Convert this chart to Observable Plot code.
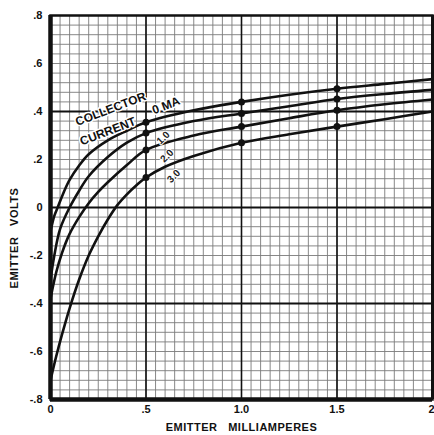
<!DOCTYPE html>
<html>
<head>
<meta charset="utf-8">
<script src="https://cdn.jsdelivr.net/npm/d3@7"></script>
<script src="https://cdn.jsdelivr.net/npm/@observablehq/plot@0.6"></script>
<style>
  html, body { margin: 0; padding: 0; background: #fff; }
  svg { display: block; }
</style>
</head>
<body>
<div id="chart"></div>
<script>
// Collector current series (mA) and emitter curves
const seriesNames = ["0", "1.0", "2.0", "3.0"];
const curve0X = [0, 0.02, 0.04, 0.07, 0.1, 0.15, 0.2, 0.3, 0.4, 0.5, 0.75, 1.0, 1.25, 1.5, 1.75, 2.0];
const curve0Y = [-0.1, -0.035, 0.005, 0.065, 0.115, 0.175, 0.222, 0.28, 0.32, 0.355, 0.405, 0.44, 0.47, 0.495, 0.515, 0.535];
const curve1X = [0, 0.02, 0.05, 0.1, 0.15, 0.2, 0.3, 0.4, 0.5, 0.75, 1.0, 1.25, 1.5, 1.75, 2.0];
const curve1Y = [-0.3, -0.2, -0.09, 0.0, 0.07, 0.13, 0.21, 0.27, 0.31, 0.36, 0.392, 0.422, 0.452, 0.473, 0.49];
const curve2X = [0, 0.03, 0.06, 0.1, 0.15, 0.2, 0.25, 0.3, 0.4, 0.5, 0.75, 1.0, 1.25, 1.5, 1.75, 2.0];
const curve2Y = [-0.38, -0.27, -0.19, -0.11, -0.04, 0.018, 0.065, 0.105, 0.177, 0.24, 0.3, 0.337, 0.372, 0.405, 0.43, 0.45];
const curve3X = [0, 0.03, 0.06, 0.1, 0.15, 0.2, 0.25, 0.3, 0.35, 0.4, 0.45, 0.5, 0.6, 0.75, 1.0, 1.25, 1.5, 1.75, 2.0];
const curve3Y = [-0.72, -0.62, -0.53, -0.42, -0.3, -0.2, -0.12, -0.05, 0.01, 0.055, 0.093, 0.125, 0.17, 0.215, 0.27, 0.305, 0.337, 0.368, 0.4];
const measuredX = [0.5, 1.0, 1.5];

const xTicks = [0, 0.5, 1.0, 1.5, 2];
const xTickLabels = ["0", ".5", "1.0", "1.5", "2"];
const yTicks = [0.8, 0.6, 0.4, 0.2, 0, -0.2, -0.4, -0.6, -0.8];
const yTickLabels = [".8", ".6", ".4", ".2", "0", "-.2", "-.4", "-.6", "-.8"];

const annText = ["COLLECTOR", "CURRENT", "0 MA"];
const annX = [0.315, 0.3, 0.605];
const annY = [0.41, 0.317, 0.425];
const seriesLabelText = ["1.0", "2.0", "3.0"];
const seriesLabelX = [0.59, 0.61, 0.645];
const seriesLabelY = [0.29, 0.215, 0.13];

// build tables
const curves = [[curve0X, curve0Y], [curve1X, curve1Y], [curve2X, curve2Y], [curve3X, curve3Y]];
const lineData = curves.flatMap(([xs, ys], i) => xs.map((x, j) => ({series: seriesNames[i], x, y: ys[j]})));
const dotData = lineData.filter(d => measuredX.includes(d.x));
const ann = annText.map((t, i) => ({t, x: annX[i], y: annY[i]}));
const sLab = seriesLabelText.map((t, i) => ({t, x: seriesLabelX[i], y: seriesLabelY[i]}));

const minorX = d3.range(0, 2.0001, 0.05).map(v => +v.toFixed(3));
const minorY = d3.range(-0.8, 0.8001, 0.04).map(v => +v.toFixed(3));
const majorX = [0.5, 1.0, 1.5];
const majorY = [-0.4, 0, 0.4];

const font = "'Liberation Sans', Arial, sans-serif";
const lastX = xTicks.length - 1;

const chart = Plot.plot({
  width: 434,
  height: 435,
  marginLeft: 50,
  marginRight: 2,
  marginTop: 15,
  marginBottom: 36,
  style: {fontFamily: font, background: "#fff", color: "#111"},
  x: {domain: [0, 2]},
  y: {domain: [-0.8, 0.8]},
  marks: [
    Plot.ruleX(minorX, {stroke: "#7a7a7a", strokeWidth: 0.9}),
    Plot.ruleY(minorY, {stroke: "#7a7a7a", strokeWidth: 0.9}),
    Plot.ruleX(majorX, {stroke: "#111", strokeWidth: 1.6}),
    Plot.ruleY(majorY, {stroke: "#111", strokeWidth: 1.8}),
    Plot.line(lineData, {x: "x", y: "y", z: "series", curve: "catmull-rom", stroke: "#111", strokeWidth: 2.6}),
    Plot.dot(dotData, {x: "x", y: "y", r: 3.5, fill: "#111"}),
    Plot.text(ann, {x: "x", y: "y", text: "t", rotate: -21, fontSize: 12, fontWeight: "bold", fill: "#111", stroke: "white", strokeWidth: 3, letterSpacing: "0.5px"}),
    Plot.text(sLab, {x: "x", y: "y", text: "t", rotate: -45, fontSize: 10, fontWeight: "bold", fill: "#222", stroke: "white", strokeWidth: 2}),
    Plot.frame({stroke: "#111", strokeWidth: 2.5}),
    Plot.ruleX([0], {stroke: "#111", strokeWidth: 4.5}),
    Plot.ruleY([-0.8], {stroke: "#111", strokeWidth: 4.5}),
    Plot.ruleX([2], {stroke: "#111", strokeWidth: 3}),
    Plot.axisX(xTicks.slice(0, lastX), {tickSize: 0, tickPadding: 6, fontSize: 11, fontWeight: "bold",
      tickFormat: (d, i) => xTickLabels[i],
      label: "EMITTER   MILLIAMPERES", labelAnchor: "center", labelArrow: "none", labelOffset: 31}),
    Plot.axisX([xTicks[lastX]], {tickSize: 0, tickPadding: 6, fontSize: 11, fontWeight: "bold",
      textAnchor: "end", dx: 2,
      tickFormat: () => xTickLabels[lastX], label: null}),
    Plot.axisY(yTicks, {tickSize: 0, tickPadding: 8, fontSize: 11, fontWeight: "bold",
      tickFormat: (d, i) => yTickLabels[i],
      label: null})
  ]
});

document.getElementById("chart").appendChild(chart);
const svg = d3.select(chart);
svg.append("text")
  .attr("transform", "translate(15,238) rotate(-90)")
  .attr("text-anchor", "middle")
  .attr("dominant-baseline", "middle")
  .attr("font-family", font)
  .attr("font-size", 11)
  .attr("font-weight", "bold")
  .attr("letter-spacing", "0.5px")
  .attr("fill", "#111")
  .text("EMITTER   VOLTS");
svg.selectAll("[aria-label='x-axis label'] text, [aria-label='x-axis label']")
  .attr("font-weight", "bold").attr("letter-spacing", "0.5px");
</script>
</body>
</html>
